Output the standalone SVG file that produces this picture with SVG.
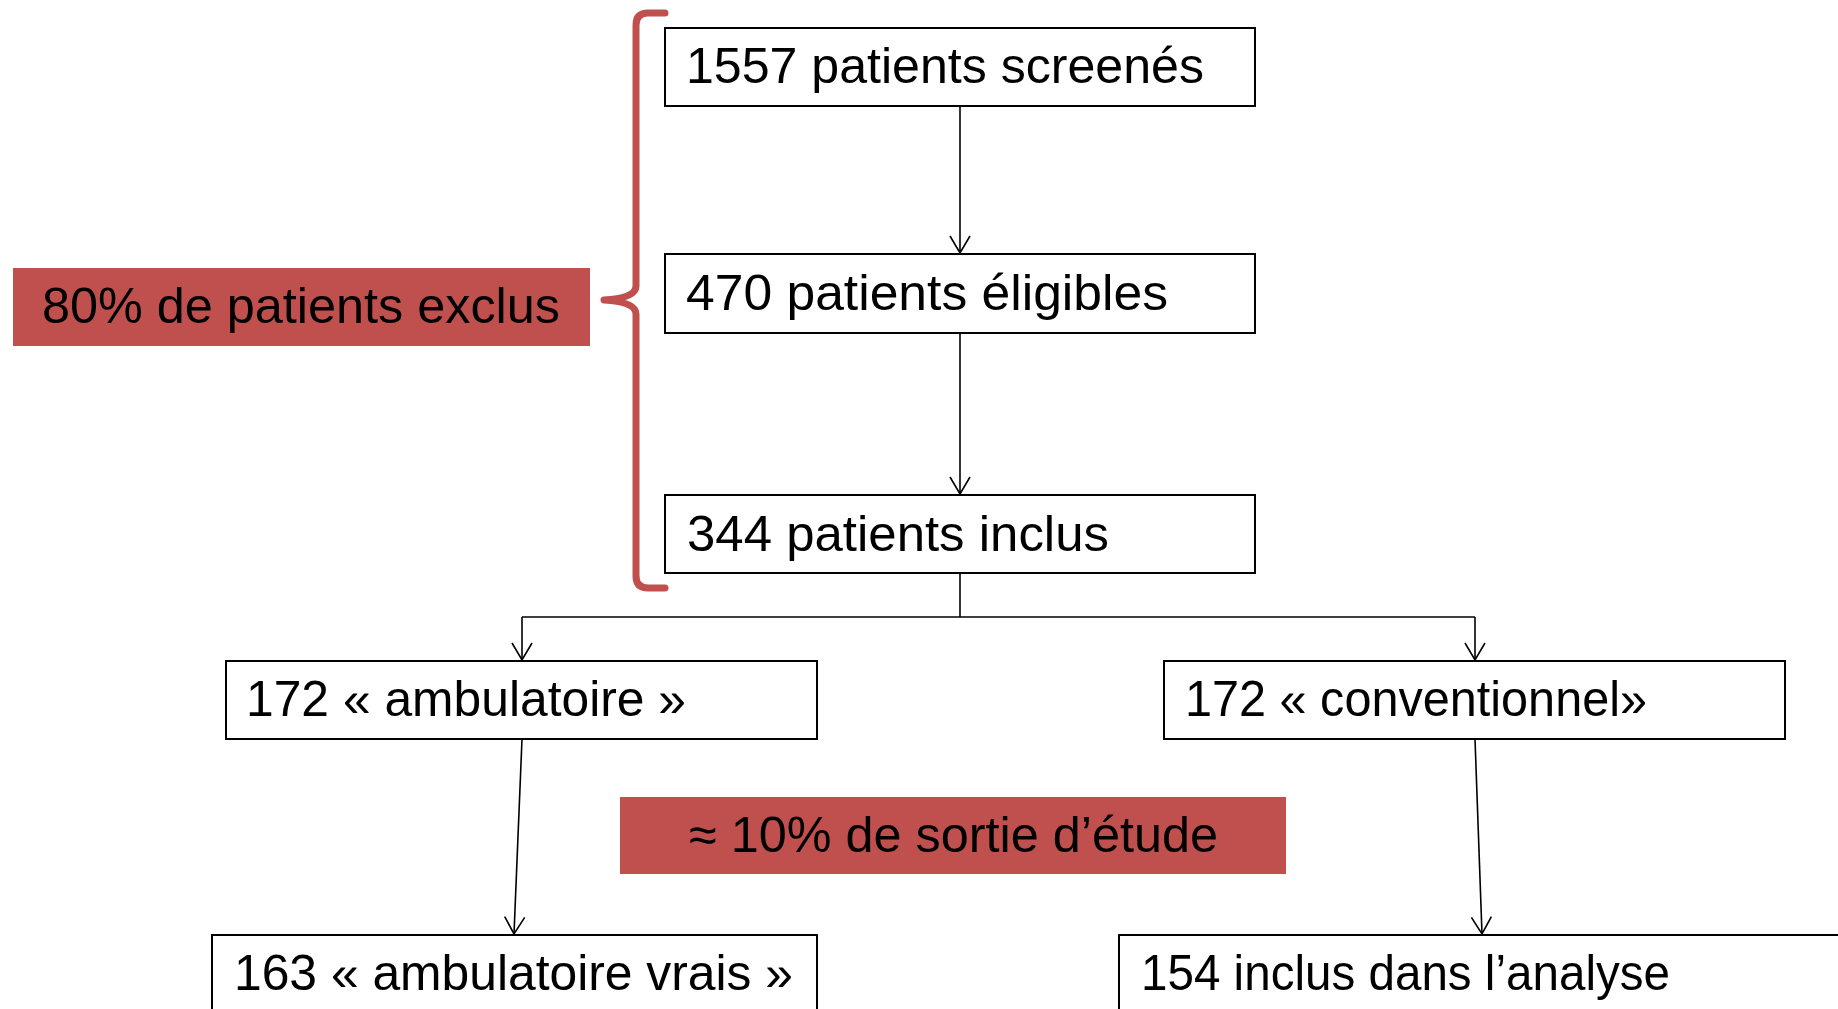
<svg xmlns="http://www.w3.org/2000/svg" width="1838" height="1009" viewBox="0 0 1838 1009">
<style>
.box{fill:#ffffff;stroke:#000000;stroke-width:2}
.red{fill:#C0504D;stroke:none}
.t{font-family:"Liberation Sans",Arial,sans-serif;font-size:50px;fill:#000000}
.c{fill:none;stroke:#000000;stroke-width:1.6}
.brace{fill:none;stroke:#C0504D;stroke-width:7;stroke-linecap:round;stroke-linejoin:round}
</style>
<defs>
<marker id="arr" markerUnits="userSpaceOnUse" markerWidth="24" markerHeight="24" viewBox="-20 -12 24 24" refX="0" refY="0" orient="auto">
<path d="M-17,-10 L0,0 L-17,10" fill="none" stroke="#000000" stroke-width="1.6"/>
</marker>
</defs>
<rect width="1838" height="1009" fill="#ffffff"/>
<g id="connectors">
<line class="c" x1="960" y1="106" x2="960" y2="253" marker-end="url(#arr)"/>
<line class="c" x1="960" y1="333" x2="960" y2="494" marker-end="url(#arr)"/>
<polyline class="c" points="960,573 960,617"/>
<polyline class="c" points="522,617 1475,617"/>
<line class="c" x1="522" y1="617" x2="522" y2="660" marker-end="url(#arr)"/>
<line class="c" x1="1475" y1="617" x2="1475" y2="660" marker-end="url(#arr)"/>
<line class="c" x1="522" y1="739" x2="514" y2="934" marker-end="url(#arr)"/>
<line class="c" x1="1475" y1="739" x2="1482" y2="934" marker-end="url(#arr)"/>
</g>
<g id="brace">
<path class="brace" d="M665,13 H648 Q636,13 636,25 V286 Q636,298 604,300 Q636,302 636,314 V576 Q636,588 648,588 H665"/>
</g>
<g id="n1">
<rect class="box" x="665" y="28" width="590" height="78"/>
<text class="t" x="686" y="83" textLength="518" lengthAdjust="spacingAndGlyphs">1557 patients screenés</text>
</g>
<g id="n2">
<rect class="box" x="665" y="254" width="590" height="79"/>
<text class="t" x="686" y="310" textLength="482" lengthAdjust="spacingAndGlyphs">470 patients éligibles</text>
</g>
<g id="n3">
<rect class="box" x="665" y="495" width="590" height="78"/>
<text class="t" x="687" y="551" textLength="422" lengthAdjust="spacingAndGlyphs">344 patients inclus</text>
</g>
<g id="n4">
<rect class="box" x="226" y="661" width="591" height="78"/>
<text class="t" x="246" y="716" textLength="440" lengthAdjust="spacingAndGlyphs">172 « ambulatoire »</text>
</g>
<g id="n5">
<rect class="box" x="1164" y="661" width="621" height="78"/>
<text class="t" x="1185" y="716" textLength="462" lengthAdjust="spacingAndGlyphs">172 « conventionnel»</text>
</g>
<g id="n6">
<rect class="box" x="212" y="935" width="605" height="100"/>
<text class="t" x="234" y="990" textLength="559" lengthAdjust="spacingAndGlyphs">163 « ambulatoire vrais »</text>
</g>
<g id="n7">
<rect class="box" x="1119" y="935" width="740" height="100"/>
<text class="t" x="1141" y="990" textLength="529" lengthAdjust="spacingAndGlyphs">154 inclus dans l’analyse</text>
</g>
<g id="label-exclus">
<rect class="red" x="13" y="268" width="577" height="78"/>
<text class="t" x="42" y="323" textLength="518" lengthAdjust="spacingAndGlyphs">80% de patients exclus</text>
</g>
<g id="label-sortie">
<rect class="red" x="620" y="797" width="666" height="77"/>
<text class="t" x="689" y="852" textLength="529" lengthAdjust="spacingAndGlyphs">≈ 10% de sortie d’étude</text>
</g>
</svg>
